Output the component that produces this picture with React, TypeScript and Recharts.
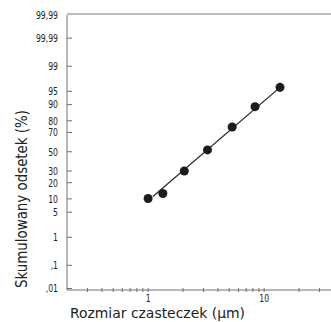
import React from "react";
import { ScatterChart, Scatter, XAxis, YAxis } from "recharts";

// particle size (µm) and cumulative share (%)
const sizes = [1.0, 1.34, 2.05, 3.25, 5.3, 8.35, 13.7];
const cumPercent = [10.2, 12.8, 30, 52, 75, 89, 96];

// fitted line end points
const fitSizes = [1.1, 13.7];
const fitPercent = [11.2, 96];

const yTickValues = [99.99, 99.9, 99, 95, 90, 80, 70, 50, 30, 20, 10, 5, 1, 0.1, 0.01];
const yTickLabels = ["99,99", "99,99", "99", "95", "90", "80", "70", "50", "30", "20", "10", "5", "1", ",1", ",01"];
const xTickValues = [0.3, 0.4, 0.5, 0.6, 0.7, 0.8, 0.9, 1, 2, 3, 4, 5, 6, 7, 8, 9, 10, 20, 30];
const xLabelled = [1, 10];

const FONT = "'Liberation Sans Narrow', 'DejaVu Sans Condensed', 'Noto Sans', sans-serif";
const AXIS = "#707070";
const PLOT_LEFT = 67;
const PLOT_BOTTOM = 290;

// inverse normal CDF (Acklam)
function probit(p: number): number {
	const a = [-39.69683028665376, 220.9460984245205, -275.9285104469687, 138.357751867269, -30.66479806614716, 2.506628277459239];
	const b = [-54.47609879822406, 161.5858368580409, -155.6989798598866, 66.80131188771972, -13.28068155288572];
	const c = [-0.007784894002430293, -0.3223964580411365, -2.400758277161838, -2.549732539343734, 4.374664141464968, 2.938163982698783];
	const d = [0.007784695709041462, 0.3224671290700398, 2.445134137142996, 3.754408661907416];
	const pl = 0.02425;
	if (p < pl) {
		const q = Math.sqrt(-2 * Math.log(p));
		return (((((c[0] * q + c[1]) * q + c[2]) * q + c[3]) * q + c[4]) * q + c[5]) / ((((d[0] * q + d[1]) * q + d[2]) * q + d[3]) * q + 1);
	}
	if (p > 1 - pl) {
		const q = Math.sqrt(-2 * Math.log(1 - p));
		return -(((((c[0] * q + c[1]) * q + c[2]) * q + c[3]) * q + c[4]) * q + c[5]) / ((((d[0] * q + d[1]) * q + d[2]) * q + d[3]) * q + 1);
	}
	const q = p - 0.5;
	const r = q * q;
	return ((((((a[0] * r + a[1]) * r + a[2]) * r + a[3]) * r + a[4]) * r + a[5]) * q) / (((((b[0] * r + b[1]) * r + b[2]) * r + b[3]) * r + b[4]) * r + 1);
}

const toZ = (pct: number) => probit(pct / 100);

const points = sizes.map((s, i) => ({ x: s, z: toZ(cumPercent[i]) }));
const fitLine = fitSizes.map((s, i) => ({ x: s, z: toZ(fitPercent[i]) }));
const yTicksZ = yTickValues.map(toZ);

const YTick = (props: any) => {
	const { y, payload } = props;
	let idx = 0;
	yTicksZ.forEach((t, i) => {
		if (Math.abs(t - payload.value) < Math.abs(yTicksZ[idx] - payload.value)) idx = i;
	});
	return (
		<g>
			{idx > 0 && <line x1={PLOT_LEFT} x2={PLOT_LEFT + 5} y1={y} y2={y} stroke={AXIS} strokeWidth={1} />}
			<text
				transform={`translate(${PLOT_LEFT - 9}, ${y}) scale(0.78, 1)`}
				dy="0.35em"
				textAnchor="end"
				fontSize={11}
				fill="#222"
				fontFamily={FONT}>
				{yTickLabels[idx]}
			</text>
		</g>
	);
};

const XTick = (props: any) => {
	const { x, payload } = props;
	const v = payload.value;
	const labelled = xLabelled.some((l) => Math.abs(l - v) < 1e-9);
	return (
		<g>
			<line x1={x} x2={x} y1={PLOT_BOTTOM - 2} y2={PLOT_BOTTOM + 2} stroke={AXIS} strokeWidth={1} />
			{labelled && (
				<text
					transform={`translate(${x}, ${PLOT_BOTTOM + 8}) scale(0.78, 1)`}
					dy="0.35em"
					textAnchor="middle"
					fontSize={11}
					fill="#222"
					fontFamily={FONT}>
					{String(v)}
				</text>
			)}
		</g>
	);
};

const XTitle = (props: any) => {
	const vb = props.viewBox || { x: PLOT_LEFT, y: PLOT_BOTTOM };
	return (
		<text x={vb.x + 3} y={vb.y + 28} fontSize={14} fill="#222" fontFamily={FONT} textLength={175} lengthAdjust="spacingAndGlyphs">
			Rozmiar czasteczek (µm)
		</text>
	);
};

const YTitle = () => (
	<text
		x={0}
		y={0}
		transform="translate(27, 199) rotate(-90)"
		textAnchor="middle"
		fontSize={15}
		fill="#222"
		fontFamily={FONT}
		textLength={178}
		lengthAdjust="spacingAndGlyphs">
		Skumulowany odsetek (%)
	</text>
);

const NoShape = () => null;

export default function App() {
	return (
		<div style={{ position: "absolute", left: 0, top: 0, width: 331, height: 322, overflow: "hidden", background: "#fff" }}>
			<ScatterChart width={334} height={322} margin={{ top: 15, right: 0, bottom: 0, left: 0 }}>
				<XAxis
					type="number"
					dataKey="x"
					scale="log"
					domain={[0.2, 40]}
					allowDataOverflow
					ticks={xTickValues}
					interval={0}
					tick={<XTick />}
					tickLine={false}
					axisLine={{ stroke: AXIS, strokeWidth: 1 }}
					height={32}
					label={<XTitle />}
				/>
				<YAxis
					type="number"
					dataKey="z"
					domain={[-3.76, toZ(99.99)]}
					allowDataOverflow
					ticks={yTicksZ}
					interval={0}
					tick={<YTick />}
					tickLine={false}
					axisLine={{ stroke: AXIS, strokeWidth: 1 }}
					width={PLOT_LEFT}
					label={<YTitle />}
				/>
				<Scatter data={fitLine} line={{ stroke: "#2a2a2a", strokeWidth: 1.3 }} shape={<NoShape />} isAnimationActive={false} />
				<Scatter data={points} fill="#1c1c1c" shape="circle" isAnimationActive={false} />
				<line x1={PLOT_LEFT} x2={334} y1={14} y2={14} stroke="#bdbdbd" strokeWidth={2} />
			</ScatterChart>
		</div>
	);
}
